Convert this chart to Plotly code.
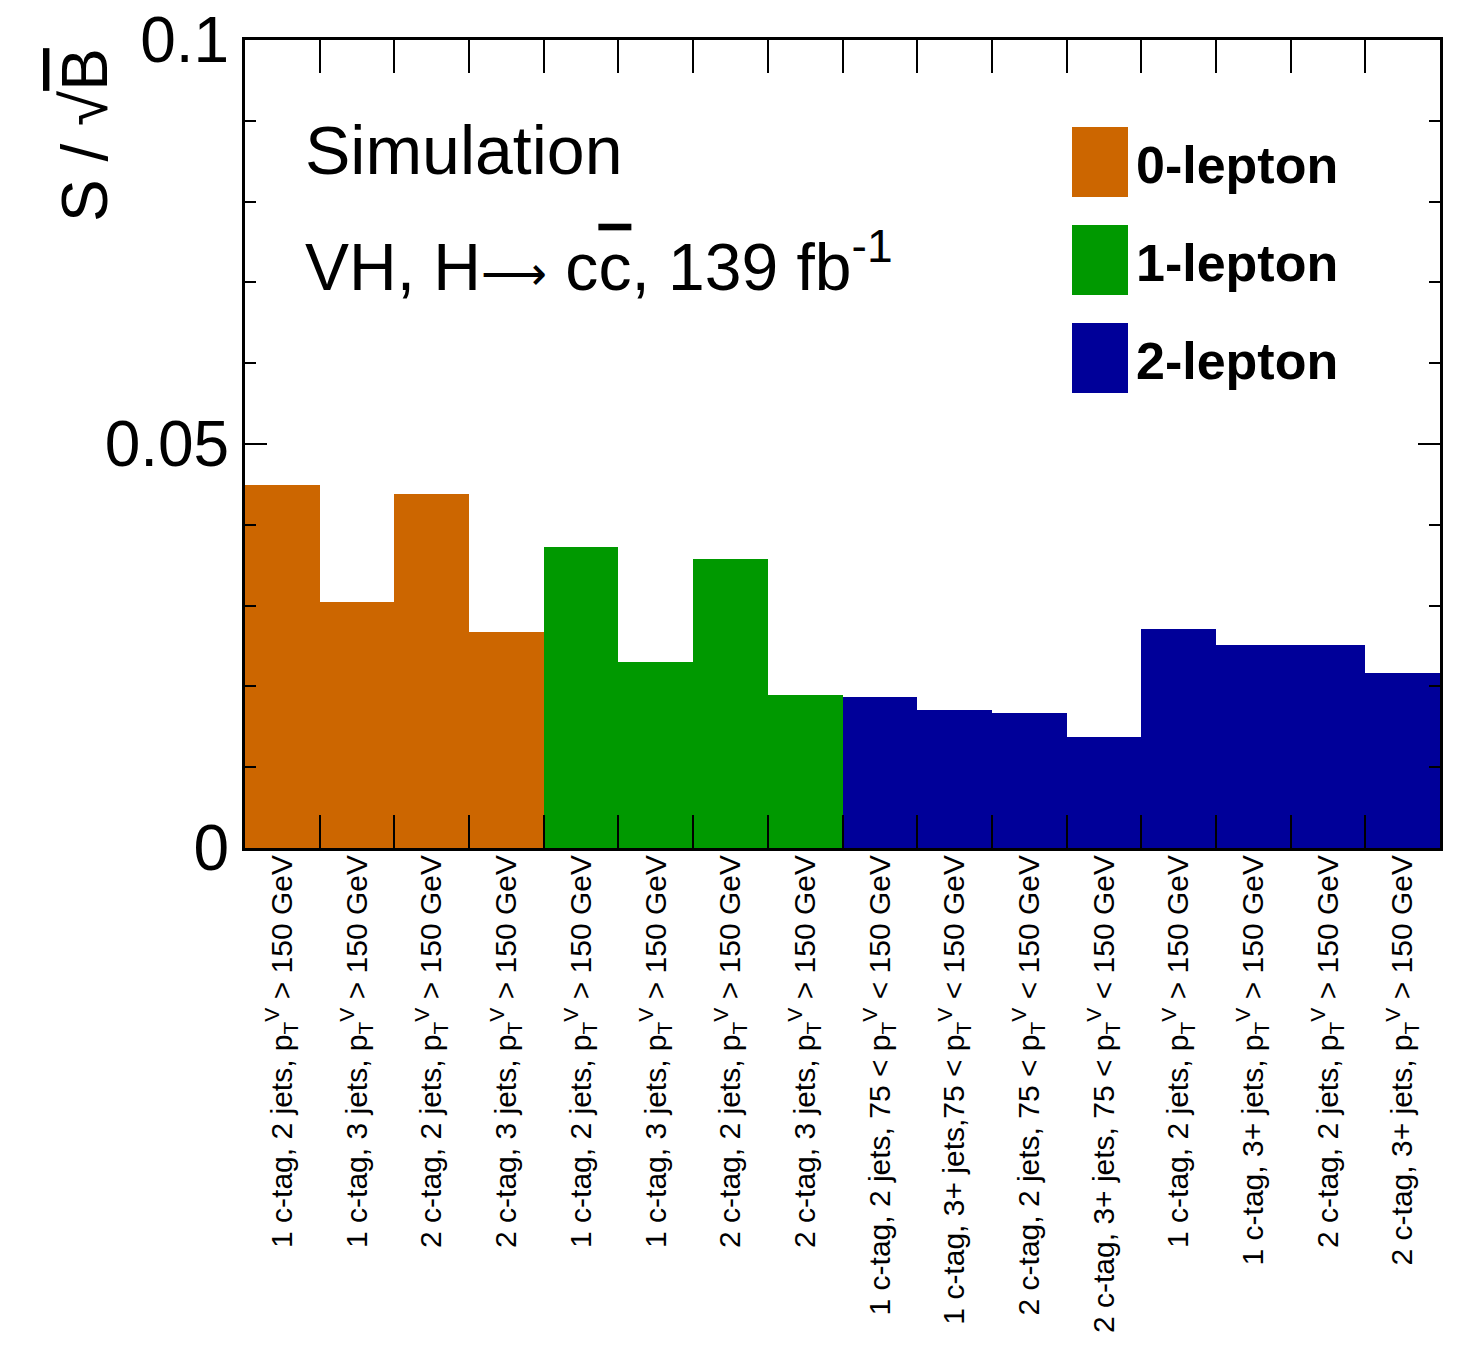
import plotly.graph_objects as go

# ---- data ----
pt_hi = "p<sub>T</sub><sup>V</sup> > 150 GeV"
pt_lo = "75 < p<sub>T</sub><sup>V</sup> < 150 GeV"

labels_0lep = [
    "1 c-tag, 2 jets, " + pt_hi,
    "1 c-tag, 3 jets, " + pt_hi,
    "2 c-tag, 2 jets, " + pt_hi,
    "2 c-tag, 3 jets, " + pt_hi,
]
labels_1lep = list(labels_0lep)
labels_2lep = [
    "1 c-tag, 2 jets, " + pt_lo,
    "1 c-tag, 3+ jets," + pt_lo,
    "2 c-tag, 2 jets, " + pt_lo,
    "2 c-tag, 3+ jets, " + pt_lo,
    "1 c-tag, 2 jets, " + pt_hi,
    "1 c-tag, 3+ jets, " + pt_hi,
    "2 c-tag, 2 jets, " + pt_hi,
    "2 c-tag, 3+ jets, " + pt_hi,
]

values_0lep = [0.0449, 0.0305, 0.0438, 0.0267]
values_1lep = [0.0372, 0.0230, 0.0358, 0.0189]
values_2lep = [0.0187, 0.0171, 0.0167, 0.0138, 0.0271, 0.0251, 0.0251, 0.0216]

series_names = ["0-lepton", "1-lepton", "2-lepton"]
series_colors = ["#CC6600", "#009900", "#000099"]

y_ticks = [0, 0.05, 0.1]
y_ticklabels = ["0", "0.05", "0.1"]

# ---- figure ----
all_labels = labels_0lep + labels_1lep + labels_2lep
n = len(all_labels)
groups = [values_0lep, values_1lep, values_2lep]

fig = go.Figure()
start = 0
for name, vals, col in zip(series_names, groups, series_colors):
    xs = list(range(start, start + len(vals)))
    fig.add_trace(go.Bar(x=xs, y=vals, width=1.0, marker=dict(color=col, line=dict(width=0)),
                         name=name, showlegend=False))
    start += len(vals)
# empty helper trace so the label axis is rendered
fig.add_trace(go.Scatter(x=[], y=[], xaxis="x2", showlegend=False, hoverinfo="skip"))

FONT = "Liberation Sans, Arial, Helvetica, sans-serif"
edges = [i - 0.5 for i in range(1, n)]

# page body has an 8px margin -> plot area at x 245..1440, y 40..848 on screen
fig.update_layout(
    width=1459, height=1357,
    margin=dict(l=237, r=27, t=32, b=517),
    paper_bgcolor="white", plot_bgcolor="white",
    bargap=0, barmode="overlay",
    font=dict(family=FONT, color="black"),
    xaxis=dict(
        range=[-0.5, n - 0.5], tickmode="array", tickvals=edges, showticklabels=False,
        ticks="inside", ticklen=33, tickwidth=2, tickcolor="black",
        showline=True, linewidth=3, linecolor="black", mirror="ticks",
        showgrid=False, zeroline=False, automargin=False, layer="above traces",
    ),
    xaxis2=dict(
        range=[-0.5, n - 0.5], overlaying="x", side="bottom", anchor="y",
        tickmode="array", tickvals=list(range(n)), ticktext=all_labels,
        tickangle=-90, ticks="", tickfont=dict(size=30, family=FONT),
        showline=False, showgrid=False, zeroline=False, automargin=False,
        ticklabeloverflow="allow",
    ),
    yaxis=dict(
        range=[0, 0.1], tickmode="array", tickvals=y_ticks, ticktext=y_ticklabels,
        ticks="inside", ticklen=22, tickwidth=2, tickcolor="black",
        minor=dict(tickvals=[i / 100 for i in range(1, 10) if i != 5], ticks="inside",
                   ticklen=11, tickwidth=2, tickcolor="black", showgrid=False),
        showline=True, linewidth=3, linecolor="black", mirror="ticks",
        tickfont=dict(size=64, family=FONT), showgrid=False, zeroline=False,
        automargin=False, layer="above traces", ticklabeloverflow="allow",
    ),
)

# y-axis title (top-aligned, ROOT style)
fig.add_annotation(
    text="S / √<span style='text-decoration:overline'>B</span>",
    xref="paper", yref="paper", x=(85 - 245) / 1195, y=1 - (135 - 40) / 808,
    xanchor="center", yanchor="middle", textangle=-90, showarrow=False,
    font=dict(size=64, family=FONT),
)

fig.add_annotation(
    text="Simulation", xref="paper", yref="paper",
    x=(303 - 245) / 1195, y=1 - (150 - 40) / 808, xanchor="left", yanchor="middle",
    showarrow=False, font=dict(size=68, family=FONT),
)
fig.add_annotation(
    text="VH, H<span style='font-size:46px'>⟶</span> c<span style='text-decoration:overline'>c</span>, 139 fb<sup>-1</sup>",
    xref="paper", yref="paper",
    x=(303 - 245) / 1195, y=1 - (262 - 40) / 808, xanchor="left", yanchor="middle",
    showarrow=False, font=dict(size=66, family=FONT),
)

# legend
box_tops = [127, 225, 323]
for name, col, top in zip(series_names, series_colors, box_tops):
    fig.add_shape(type="rect", xref="paper", yref="paper",
                  x0=(1072 - 245) / 1195, x1=(1128 - 245) / 1195,
                  y0=1 - (top + 70 - 40) / 808, y1=1 - (top - 40) / 808,
                  fillcolor=col, line=dict(width=0))
    fig.add_annotation(text="<b>" + name + "</b>", xref="paper", yref="paper",
                       x=(1134 - 245) / 1195, y=1 - (top + 38 - 40) / 808,
                       xanchor="left", yanchor="middle", showarrow=False,
                       font=dict(size=52, family=FONT))

fig.write_html("out.html")
